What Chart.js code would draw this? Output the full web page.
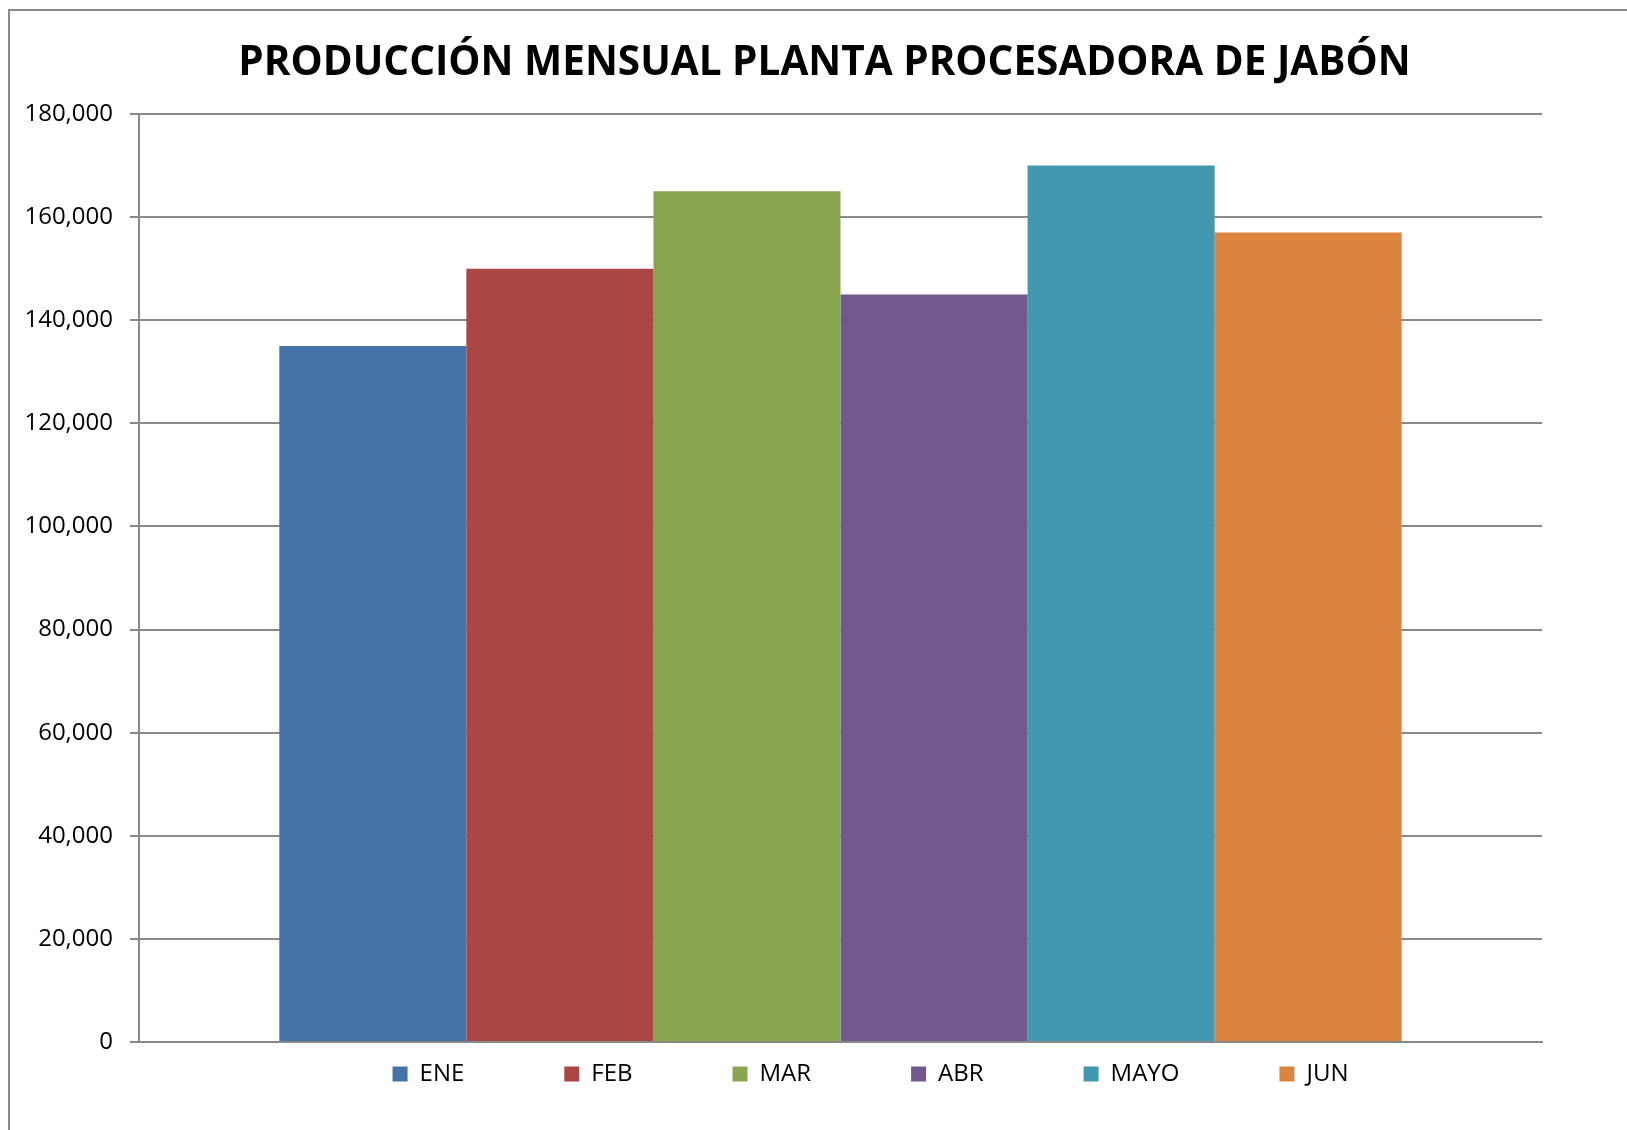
<!DOCTYPE html>
<html>
<head>
<meta charset="utf-8">
<script src="https://cdn.jsdelivr.net/npm/chart.js@4/dist/chart.umd.min.js"></script>
<style>
  html, body { margin: 0; padding: 0; overflow: hidden; background: #ffffff; width: 1627px; height: 1130px; }
  #frame { position: absolute; left: 8px; top: 9px; width: 1700px; height: 1200px; border: 2px solid #898989; box-sizing: border-box; }
  #c { position: absolute; left: 0; top: 0; }
</style>
</head>
<body>
<div id="frame"></div>
<canvas id="c" width="1627" height="1176"></canvas>
<script>
const chartTitle = 'PRODUCCIÓN MENSUAL PLANTA PROCESADORA DE JABÓN';
const categories = [''];
const months = ['ENE', 'FEB', 'MAR', 'ABR', 'MAYO', 'JUN'];
const production = [135000, 150000, 165000, 145000, 170000, 157000];
const monthColors = ['#4572A7', '#AA4643', '#89A54E', '#71588F', '#4198AF', '#DB843D'];
const yMin = 0;
const yMax = 180000;
const yStep = 20000;

const datasets = months.map((m, i) => ({
  label: m,
  data: [production[i]],
  backgroundColor: monthColors[i],
  borderWidth: 0,
  categoryPercentage: 0.8,
  barPercentage: 1.0
}));

const boxShift = {
  id: 'boxShift',
  afterLayout(chart) {
    const lg = chart.legend;
    if (lg) {
      lg.top -= 80; lg.bottom -= 80;
      lg.left += 30; lg.right += 30;
    }
    const tt = chart.titleBlock;
    if (tt) {
      tt.left -= 16; tt.right -= 16;
    }
  }
};

function build() {
  new Chart(document.getElementById('c'), {
    type: 'bar',
    data: { labels: categories, datasets: datasets },
    plugins: [boxShift],
    options: {
      responsive: false,
      animation: false,
      devicePixelRatio: 1,
      layout: { padding: { left: 0, right: 85, top: 0, bottom: 0 } },
      plugins: {
        title: {
          display: true,
          fullSize: false,
          text: chartTitle,
          color: '#000000',
          font: { family: '"Open Sans", sans-serif', size: 40.5, weight: 'bold', lineHeight: 1.2 },
          padding: { top: 39, bottom: 26.4 }
        },
        legend: {
          display: true,
          position: 'bottom',
          fullSize: false,
          labels: {
            boxWidth: 15,
            boxHeight: 15,
            padding: 100,
            color: '#000000',
            font: { family: '"Open Sans", sans-serif', size: 24 }
          }
        },
        tooltip: { enabled: false }
      },
      scales: {
        x: {
          grid: { display: false, drawTicks: false },
          border: { display: true, color: '#898989', width: 2 },
          ticks: { display: false },
          afterFit(scale) { scale.height = 0; }
        },
        y: {
          min: yMin,
          max: yMax,
          grid: { color: '#898989', lineWidth: 2, tickLength: 9, drawTicks: true },
          border: { display: true, color: '#898989', width: 2 },
          ticks: {
            stepSize: yStep,
            padding: 17,
            color: '#000000',
            font: { family: '"Open Sans", sans-serif', size: 24 },
            callback: (v) => Number(v).toLocaleString('en-US')
          },
          afterFit(scale) { scale.width = 139; }
        }
      }
    }
  });
}

Promise.all([
  document.fonts.load('bold 40px "Open Sans"'),
  document.fonts.load('24px "Open Sans"')
]).then(build, build);
</script>
</body>
</html>
